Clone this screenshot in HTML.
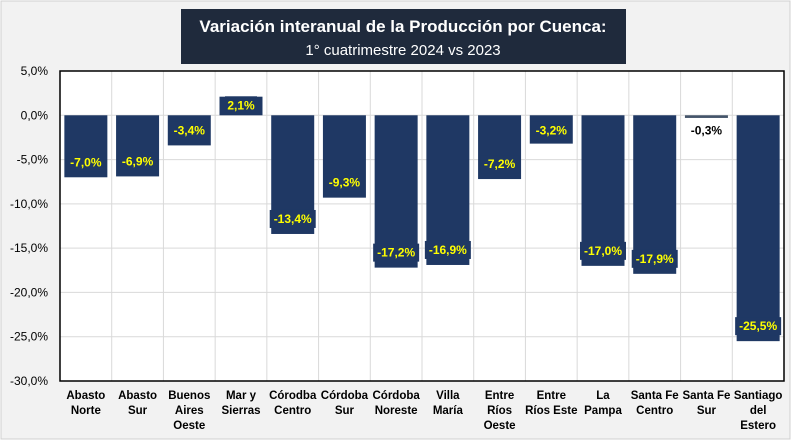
<!DOCTYPE html>
<html><head><meta charset="utf-8"><style>
body{margin:0;background:#fff;}
svg{display:block;font-family:"Liberation Sans",Arial,sans-serif;}
</style></head><body>
<svg id="chart" width="800" height="441" viewBox="0 0 800 441">
<rect x="1" y="1" width="789" height="438" fill="#f2f2f2" stroke="#d0d0d0"/>
<rect x="181" y="9" width="445" height="55" fill="#1f2a3c"/>
<text x="403" y="32" text-anchor="middle" fill="#fff" font-size="17" font-weight="bold">Variación interanual de la Producción por Cuenca:</text>
<text x="403" y="55" text-anchor="middle" fill="#fff" font-size="15">1° cuatrimestre 2024 vs 2023</text>
<rect x="60" y="71" width="724" height="310" fill="#fff"/>
<g id="grid"></g><g id="bars"></g><g id="labels"></g><g id="axes"></g>
<rect x="60" y="71" width="724" height="310" fill="none" stroke="#000" stroke-width="1.5"/>
</svg>
<script>
const categories=[["Abasto","Norte"],["Abasto","Sur"],["Buenos","Aires","Oeste"],["Mar y","Sierras"],["Córodba","Centro"],["Córdoba","Sur"],["Córdoba","Noreste"],["Villa","María"],["Entre","Ríos","Oeste"],["Entre","Ríos Este"],["La","Pampa"],["Santa Fe","Centro"],["Santa Fe","Sur"],["Santiago","del","Estero"]];
const values=[-7.0,-6.9,-3.4,2.1,-13.4,-9.3,-17.2,-16.9,-7.2,-3.2,-17.0,-17.9,-0.3,-25.5];
const ticks=[5,0,-5,-10,-15,-20,-25,-30];
const L=60,R=784,T=71,B=381,yMax=5,yMin=-30;
const ns="http://www.w3.org/2000/svg";
const y=v=>T+(yMax-v)/(yMax-yMin)*(B-T);
const cw=(R-L)/categories.length;
const x=i=>L+cw*i;
function mk(tag,attrs,parent){const e=document.createElementNS(ns,tag);for(const k in attrs)e.setAttribute(k,attrs[k]);document.getElementById(parent).appendChild(e);return e;}
const fmt=v=>v.toFixed(1).replace('.',',')+'%';
ticks.forEach(t=>{
  const g=mk('line',{x1:L,x2:R,y1:y(t),y2:y(t),stroke:'#d9d9d9'},'grid');
  
  
  const tx=mk('text',{x:L-12,y:y(t)+4,'text-anchor':'end','font-size':12,fill:'#000'},'axes');
  tx.textContent=fmt(t);
  
  
});
for(let i=1;i<categories.length;i++){
  const g=mk('line',{x1:x(i),x2:x(i),y1:T,y2:B,stroke:'#d9d9d9'},'grid');
  
  
}
values.forEach((v,i)=>{
  const bw=43,bx=x(i)+(cw-bw)/2,y0=y(0),ye=y(v);
  const r=mk('rect',{x:bx,y:Math.min(y0,ye),width:bw,height:Math.max(1.5,Math.abs(ye-y0)),fill:v>-1&&v<0?'#44546a':'#1f3864'},'bars');
  
  
  const cx=x(i)+cw/2;
  let cy;
  if(v>0) cy=y0-10; else if(v>-1) cy=y0+15; else cy=Math.max(ye-15,y0+15);
  const txt=fmt(v);
  if(v>-1&&v<0){
    const t=mk('text',{x:cx,y:cy+4,'text-anchor':'middle','font-size':12,'font-weight':'bold',fill:'#000'},'labels');
    t.textContent=txt;
    
    
  } else {
    const w=txt.length*7+4;
    const b=mk('rect',{x:cx-w/2,y:cy-9,width:w,height:18,fill:'#1f3864'},'labels');
    
    
    const t=mk('text',{x:cx,y:cy+4,'text-anchor':'middle','font-size':12,'font-weight':'bold',fill:'#ffff00'},'labels');
    t.textContent=txt;
    
    
  }
  categories[i].forEach((line,j)=>{
    const t=mk('text',{x:cx,y:B+18+j*15,'text-anchor':'middle','font-size':11.5,'font-weight':'bold',fill:'#000'},'axes');
    t.textContent=line;
    
    
  });
});
</script>
</body></html>
